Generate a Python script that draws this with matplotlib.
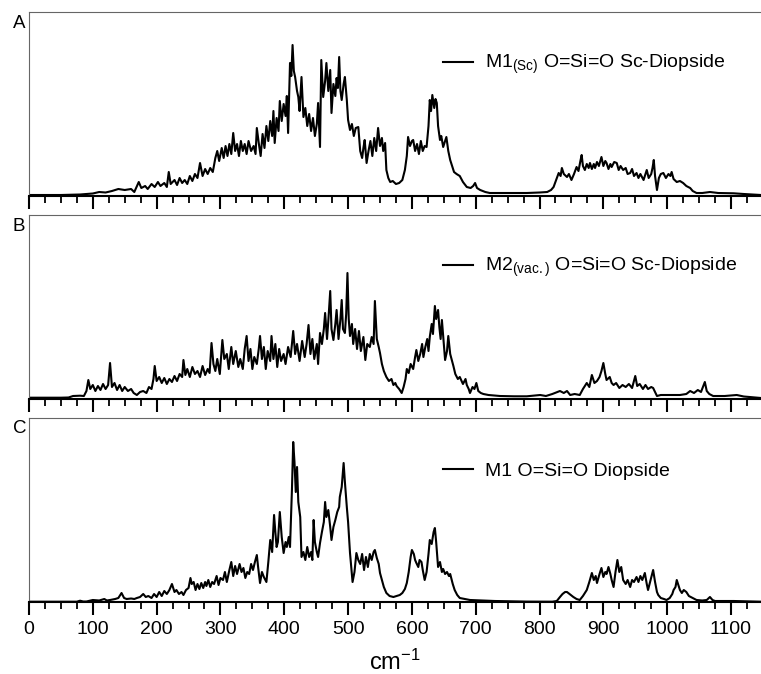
import matplotlib
matplotlib.use('Agg')
import matplotlib.pyplot as plt
import numpy as np

plt.rcParams['font.family'] = ['Liberation Sans', 'DejaVu Sans']
plt.rcParams['mathtext.default'] = 'regular'

# spectra: (wavenumber cm-1, intensity arb. units)
spec_a = [(0, 1), (50, 1), (80, 1.5), (100, 2.5), (110, 4), (120, 3.5), (130, 5), (140, 7), (150, 6), (160, 7),
          (165, 4), (172, 14), (176, 8), (182, 10), (186, 7), (192, 12), (197, 9), (202, 14), (206, 10), (212, 13),
          (216, 9), (219, 24), (222, 12), (228, 16), (232, 11), (236, 18), (240, 13), (244, 16), (248, 12), (252, 20),
          (256, 15), (260, 22), (264, 18), (268, 33), (272, 20), (276, 27), (280, 22), (284, 28), (288, 24), (292, 38),
          (295, 45), (298, 35), (302, 48), (305, 38), (308, 50), (311, 40), (314, 52), (317, 42), (320, 63), (323, 45),
          (326, 52), (329, 40), (332, 55), (335, 45), (338, 52), (341, 42), (344, 55), (348, 45), (352, 50), (355, 42),
          (357, 68), (360, 53), (363, 40), (366, 62), (369, 48), (372, 70), (375, 55), (378, 75), (381, 60), (383, 85),
          (385, 53), (388, 78), (391, 65), (393, 95), (396, 75), (399, 92), (402, 80), (404, 100), (406, 63), (409, 133),
          (411, 120), (413, 151), (415, 125), (417, 119), (420, 105), (422, 99), (424, 85), (427, 119), (430, 79), (433, 88),
          (436, 70), (439, 82), (442, 65), (445, 78), (448, 60), (451, 72), (453, 93), (456, 49), (458, 136), (461, 99),
          (464, 115), (466, 133), (469, 105), (472, 126), (474, 83), (477, 112), (480, 100), (482, 118), (484, 108), (486, 139),
          (488, 105), (490, 96), (493, 112), (495, 119), (498, 96), (500, 76), (503, 66), (506, 72), (509, 60), (512, 68),
          (516, 69), (519, 45), (522, 38), (524, 48), (526, 56), (529, 33), (532, 45), (535, 55), (538, 40), (541, 58),
          (544, 45), (547, 68), (550, 50), (553, 58), (555, 45), (558, 53), (560, 26), (563, 18), (566, 14), (570, 15),
          (575, 12), (580, 13), (585, 16), (589, 26), (592, 40), (594, 59), (597, 50), (600, 55), (602, 56), (605, 45),
          (608, 52), (611, 42), (614, 55), (617, 45), (620, 50), (623, 49), (626, 70), (628, 96), (630, 85), (632, 101),
          (635, 88), (637, 97), (639, 93), (641, 70), (644, 56), (646, 60), (649, 49), (652, 55), (654, 59), (657, 45),
          (660, 36), (663, 30), (666, 24), (670, 22), (675, 20), (680, 14), (686, 9), (692, 8), (696, 10), (699, 13),
          (702, 8), (707, 6), (715, 4), (722, 3), (740, 3), (760, 3), (780, 3), (800, 3.5), (812, 4), (818, 6),
          (822, 9), (826, 16), (830, 23), (833, 20), (835, 28), (838, 22), (843, 19), (846, 22), (850, 16), (854, 22),
          (858, 29), (861, 25), (864, 35), (866, 41), (868, 30), (871, 26), (874, 32), (877, 28), (879, 33), (882, 27),
          (885, 32), (887, 28), (890, 34), (893, 30), (897, 39), (900, 30), (903, 35), (905, 33), (908, 27), (911, 32),
          (913, 29), (917, 34), (921, 33), (924, 26), (927, 30), (931, 26), (935, 28), (938, 22), (942, 23), (945, 27),
          (948, 20), (952, 23), (955, 18), (958, 22), (963, 16), (966, 22), (968, 26), (971, 18), (975, 22), (977, 28),
          (979, 36), (981, 20), (984, 6), (987, 18), (990, 22), (994, 23), (998, 18), (1002, 22), (1005, 20), (1007, 24),
          (1010, 17), (1015, 14), (1020, 15), (1025, 13), (1030, 10), (1036, 8), (1040, 5), (1046, 3), (1055, 3), (1067, 4),
          (1080, 3), (1104, 2.7), (1120, 2), (1147, 1)]

spec_b = [(0, 1.3), (50, 1.3), (62, 1.5), (69, 3), (80, 3.3), (86, 3), (90, 8), (93, 19), (96, 10), (100, 14),
          (104, 8), (108, 13), (112, 9), (116, 15), (120, 10), (124, 14), (127, 36), (130, 12), (134, 16), (138, 9),
          (142, 14), (146, 8), (150, 12), (155, 8), (160, 10), (164, 6), (169, 4), (174, 7), (179, 8), (184, 6),
          (188, 12), (192, 10), (195, 20), (197, 33), (200, 18), (204, 22), (208, 16), (212, 21), (216, 15), (220, 20),
          (224, 17), (228, 23), (232, 18), (236, 25), (240, 22), (242, 39), (245, 24), (248, 30), (252, 22), (256, 32),
          (260, 25), (264, 28), (268, 22), (272, 33), (276, 24), (280, 30), (283, 26), (286, 56), (289, 35), (292, 28),
          (295, 40), (299, 25), (303, 59), (306, 40), (310, 45), (313, 30), (317, 52), (320, 35), (324, 48), (328, 32),
          (331, 40), (335, 30), (338, 50), (341, 63), (344, 38), (347, 50), (350, 30), (353, 42), (357, 35), (360, 50),
          (362, 63), (365, 40), (368, 52), (371, 30), (374, 48), (378, 38), (380, 63), (383, 40), (386, 55), (389, 32),
          (392, 50), (395, 38), (399, 45), (402, 35), (406, 52), (410, 42), (414, 68), (417, 45), (420, 55), (424, 38),
          (428, 58), (432, 42), (435, 55), (438, 74), (441, 45), (444, 60), (447, 40), (451, 55), (453, 35), (456, 66),
          (459, 55), (462, 70), (464, 86), (467, 60), (469, 78), (472, 108), (474, 70), (477, 59), (480, 75), (482, 89),
          (485, 60), (488, 80), (490, 99), (492, 70), (495, 66), (497, 85), (499, 126), (501, 80), (503, 63), (506, 75),
          (508, 55), (511, 70), (514, 50), (517, 68), (520, 48), (524, 62), (527, 39), (530, 55), (534, 52), (537, 62),
          (540, 55), (542, 98), (545, 60), (548, 52), (550, 46), (553, 35), (556, 28), (560, 22), (564, 18), (568, 20),
          (571, 14), (574, 16), (576, 13), (580, 10), (584, 6), (587, 12), (590, 20), (592, 30), (595, 26), (598, 35),
          (602, 30), (605, 42), (607, 49), (610, 38), (613, 45), (616, 55), (618, 42), (621, 52), (624, 60), (626, 48),
          (628, 62), (631, 75), (633, 65), (636, 93), (638, 80), (641, 89), (643, 72), (645, 60), (647, 79), (650, 55),
          (652, 39), (655, 48), (657, 63), (660, 45), (663, 38), (665, 33), (668, 25), (672, 20), (675, 22), (680, 15),
          (684, 20), (686, 14), (689, 10), (691, 6), (695, 12), (698, 10), (701, 16), (704, 8), (708, 6), (712, 5),
          (720, 4), (738, 3), (760, 2.7), (780, 2.7), (801, 4), (810, 3), (820, 5), (832, 8), (838, 6), (843, 8),
          (848, 4), (855, 5), (863, 4), (868, 10), (874, 16), (878, 12), (882, 24), (886, 16), (890, 18), (894, 22),
          (897, 28), (900, 36), (903, 25), (905, 19), (910, 22), (913, 16), (916, 14), (920, 16), (925, 11), (930, 14),
          (935, 12), (940, 15), (945, 11), (950, 23), (953, 13), (957, 15), (962, 10), (966, 14), (970, 10), (975, 12),
          (978, 11), (984, 3), (990, 4), (999, 4), (1010, 4), (1020, 4), (1030, 5), (1036, 8), (1042, 6), (1048, 9),
          (1053, 7), (1059, 17), (1062, 8), (1066, 5), (1072, 3), (1090, 3), (1109, 4), (1120, 2.5), (1147, 1)]

spec_c = [(0, 0.3), (75, 0.3), (80, 1.3), (85, 0.5), (90, 0.5), (100, 2), (110, 1.5), (118, 3), (122, 1.5), (127, 2),
          (135, 3), (140, 4), (145, 9), (149, 4), (153, 3), (160, 3.5), (165, 3), (169, 4), (174, 5), (179, 8),
          (183, 5), (187, 6), (192, 4), (196, 8), (200, 5), (204, 10), (208, 6), (212, 11), (216, 8), (220, 12),
          (224, 18), (228, 10), (231, 12), (235, 8), (239, 10), (242, 7), (246, 12), (250, 14), (253, 24), (255, 18),
          (258, 20), (261, 12), (264, 18), (267, 13), (270, 19), (273, 14), (276, 20), (278, 16), (281, 22), (284, 15),
          (287, 20), (290, 18), (294, 26), (297, 17), (300, 24), (304, 22), (307, 30), (310, 20), (314, 32), (317, 40),
          (320, 26), (323, 36), (326, 28), (330, 38), (333, 30), (336, 34), (339, 24), (342, 30), (345, 28), (348, 38),
          (351, 32), (354, 40), (357, 47), (359, 35), (362, 19), (365, 30), (368, 25), (372, 20), (375, 40), (378, 62),
          (381, 50), (384, 87), (386, 70), (388, 55), (390, 60), (393, 90), (396, 65), (399, 49), (402, 60), (404, 55),
          (407, 65), (409, 55), (412, 112), (414, 160), (416, 140), (418, 110), (420, 135), (422, 100), (425, 85), (427, 45),
          (430, 50), (433, 42), (436, 55), (439, 45), (442, 50), (444, 42), (446, 82), (448, 60), (451, 50), (453, 45),
          (456, 59), (459, 70), (462, 80), (464, 100), (466, 85), (469, 92), (472, 75), (474, 62), (477, 75), (480, 82),
          (483, 90), (486, 95), (487, 105), (490, 115), (493, 139), (495, 120), (498, 95), (500, 80), (503, 49), (505, 35),
          (507, 20), (510, 30), (513, 49), (516, 42), (519, 38), (522, 48), (525, 32), (528, 45), (531, 35), (534, 48),
          (537, 42), (540, 50), (542, 52), (545, 44), (548, 38), (550, 29), (553, 22), (556, 15), (560, 9), (565, 6),
          (571, 5), (576, 6), (581, 7), (585, 9), (589, 13), (592, 19), (595, 30), (598, 45), (600, 52), (603, 48),
          (605, 42), (607, 39), (610, 35), (612, 42), (615, 40), (617, 32), (620, 22), (623, 30), (626, 48), (628, 62),
          (631, 58), (634, 70), (636, 74), (638, 60), (641, 35), (644, 40), (647, 30), (649, 33), (652, 28), (655, 30),
          (658, 26), (660, 28), (664, 18), (667, 12), (671, 7), (675, 4), (683, 3), (691, 2), (710, 1.5), (730, 1),
          (754, 0.7), (780, 0.4), (820, 0.3), (827, 1), (832, 5), (836, 8), (840, 10), (843, 10), (847, 8), (853, 5),
          (858, 3), (863, 2), (868, 6), (874, 12), (878, 20), (882, 29), (885, 22), (888, 26), (890, 19), (894, 28),
          (897, 34), (900, 25), (903, 30), (905, 28), (908, 35), (911, 28), (913, 22), (916, 15), (919, 30), (922, 42),
          (925, 30), (928, 35), (931, 22), (935, 18), (938, 22), (942, 15), (945, 22), (948, 20), (952, 25), (955, 20),
          (958, 26), (961, 22), (965, 29), (968, 18), (970, 12), (974, 22), (978, 32), (981, 20), (984, 10), (986, 7),
          (990, 4), (995, 3), (999, 2), (1004, 4), (1008, 8), (1010, 12), (1013, 15), (1015, 22), (1018, 16), (1020, 12),
          (1023, 9), (1026, 12), (1030, 10), (1034, 6), (1040, 4), (1046, 2), (1055, 1.5), (1062, 2), (1067, 5), (1071, 2),
          (1075, 1), (1104, 1), (1147, 0.3)]

panel_letters = ['A', 'B', 'C']
legend_labels = ['M1$_{(Sc)}$ O=Si=O Sc-Diopside',
                 'M2$_{(vac.)}$ O=Si=O Sc-Diopside',
                 'M1 O=Si=O Diopside']
x_ticks = list(range(0, 1200, 100))

##################################################

W, H = 761, 674
fig = plt.figure(figsize=(W / 100, H / 100), dpi=100)

# panel frames in pixels: (top, bottom)
frames = [(12, 196), (215, 399), (418, 602)]
letter_base = [28, 231, 433]
left_px, right_px = 29, 761
xmax = (right_px - left_px) / (702 / 1100)

for i, spec in enumerate([spec_a, spec_b, spec_c]):
    top, bot = frames[i]
    ax = fig.add_axes([left_px / W, (H - bot) / H, (right_px - left_px) / W, (bot - top) / H])
    wn = np.array([p[0] for p in spec])
    inten = np.array([p[1] for p in spec])
    ax.plot(wn, inten, color='black', lw=1.5, label=legend_labels[i])
    ax.set_xlim(0, xmax)
    ax.set_ylim(0, 184)

    # spines
    ax.spines['right'].set_visible(False)
    ax.spines['top'].set_color('#666666')
    ax.spines['left'].set_color('#666666')
    ax.spines['bottom'].set_linewidth(1.5)

    ax.set_yticks([])
    ax.set_xticks(x_ticks)
    ax.set_xticks(np.arange(0, 1150, 25), minor=True)
    ax.tick_params(axis='x', which='major', direction='out', length=9, width=1.5, labelsize=14, pad=5)
    ax.tick_params(axis='x', which='minor', direction='out', length=5, width=1.3)
    if i < 2:
        ax.set_xticklabels([])
    else:
        ax.set_xlabel('cm$^{-1}$', fontsize=17, labelpad=8)

    # legend
    ax.legend(loc='center left', bbox_to_anchor=(0.566, 0.713), frameon=False,
              fontsize=14, borderpad=0, borderaxespad=0, handlelength=1.54, handletextpad=0.62)

    fig.text(13 / W, 1 - letter_base[i] / H, panel_letters[i], fontsize=13.5, va='baseline', ha='left')

plt.savefig('out.png', dpi=100)
